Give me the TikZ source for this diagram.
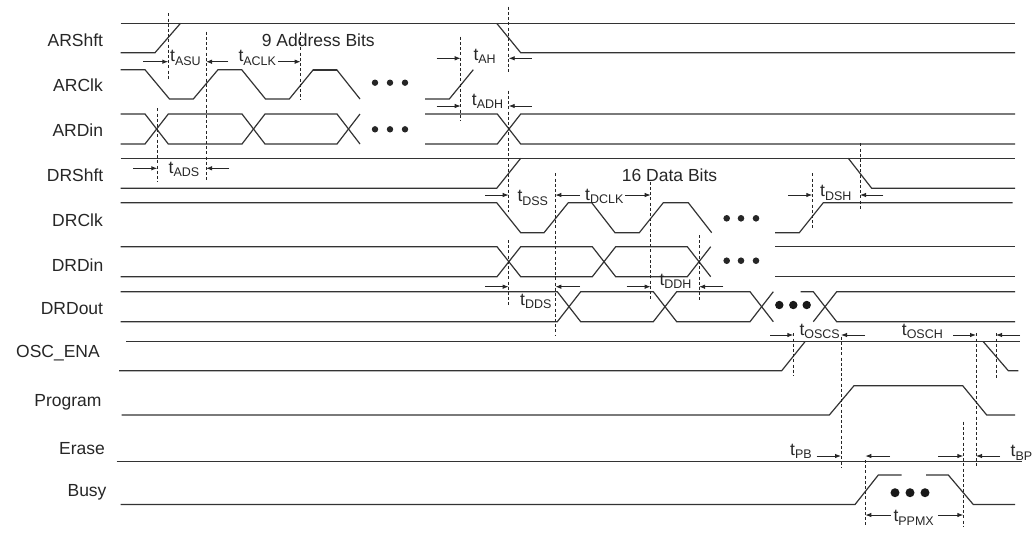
\documentclass[tikz,border=0pt]{standalone}
\usepackage{fontspec}
\setmainfont{Liberation Sans}
\usetikzlibrary{arrows.meta}
\newcommand{\ts}[1]{t\raisebox{-3.5pt}{\fontsize{12.5}{12}\selectfont #1}}
\begin{document}
\begin{tikzpicture}[x=1pt,y=-1pt,
  sig/.style={line width=1.2pt,draw=black!80,line join=miter},
  dsh/.style={line width=0.9pt,draw=black!85,dash pattern=on 3pt off 2.2pt},
  tarr/.style={line width=0.9pt,draw=black!85,-{Latex[length=6pt,width=4.5pt]}},
  lbl/.style={anchor=base east,inner sep=0,font=\fontsize{17.5}{20}\selectfont,text=black!85},
  tl/.style={anchor=base west,inner sep=0,font=\fontsize{17.5}{20}\selectfont,text=black!85},
  sdot/.style={fill=black!85},
  bdot/.style={fill=black!90}]
\useasboundingbox (0,0) rectangle (1033,542);

% ---------- signal names ----------
\node[lbl] (nARShft) at (103.3,46.7) {ARShft};
\node[lbl] (nARClk)  at (103,91.7)  {ARClk};
\node[lbl] (nARDin)  at (103.3,136) {ARDin};
\node[lbl] (nDRShft) at (103.5,181.5) {DRShft};
\node[lbl] (nDRClk)  at (103,226.5) {DRClk};
\node[lbl] (nDRDin)  at (103.5,271) {DRDin};
\node[lbl] (nDRDout) at (103.3,314) {DRDout};
\node[lbl] (nOSC)    at (100,357)   {OSC\_ENA};
\node[lbl] (nProg)   at (101.7,406.5) {Program};
\node[lbl] (nErase)  at (105,454.5) {Erase};
\node[lbl] (nBusy)   at (106.7,496.5) {Busy};

% ---------- ARShft ----------
\draw[sig] (120.7,23.3) -- (1015,23.3);
\draw[sig] (120.7,52.7) -- (155,52.7) -- (180.5,23.3);
\draw[sig] (496.7,23.3) -- (520.7,52.7) -- (1015,52.7);

% ---------- ARClk ----------
\draw[sig] (120.7,69.7) -- (145,69.7) -- (169.5,99) -- (193.3,99) -- (218,69.7) -- (241.7,69.7)
  -- (265.5,99) -- (289.3,99) -- (313.3,69.7) -- (336.7,69.7) -- (360,99);
\draw[sig,line width=1.8pt] (313.3,69.7) -- (336.7,69.7);
\draw[sig] (425,99) -- (449.3,99) -- (473.3,69.7);
\foreach \x in {375,390,405} \fill[sdot] (\x,82.7) circle (3.2);

% ---------- ARDin ----------
\draw[sig] (120.7,114) -- (145,114) -- (168.3,144) -- (242,144) -- (265,114) -- (337,114) -- (360,144);
\draw[sig] (120.7,144) -- (145,144) -- (168.3,114) -- (242,114) -- (265,144) -- (337,144) -- (360,114);
\draw[sig] (425,114) -- (497.3,114) -- (520.7,144) -- (1015,144);
\draw[sig] (425,144) -- (497.3,144) -- (520.7,114) -- (1015,114);
\foreach \x in {375,390,405} \fill[sdot] (\x,129.3) circle (3.2);

% ---------- DRShft ----------
\draw[sig] (120.7,158.3) -- (1015,158.3);
\draw[sig] (120.7,188.3) -- (496.7,188.3) -- (520.7,158.3);
\draw[sig] (848.3,158.3) -- (871.7,188.3) -- (1015,188.3);

% ---------- DRClk ----------
\draw[sig] (120.7,202.7) -- (496.7,202.7) -- (520.7,232.7) -- (544,232.7) -- (568.3,202.7) -- (591.7,202.7)
  -- (615,232.7) -- (639.3,232.7) -- (663.3,202.7) -- (688.3,202.7) -- (711.7,232.7);
\draw[sig] (775,232.7) -- (799.3,232.7) -- (823.3,202.7) -- (1012.7,202.7);
\foreach \x in {726.7,741,756} \fill[sdot] (\x,218.3) circle (3.3);

% ---------- DRDin ----------
\draw[sig] (120.7,246.7) -- (497,246.7) -- (520.7,276.7) -- (592.3,276.7) -- (615.7,246.7) -- (687.3,246.7) -- (710.7,276.7);
\draw[sig] (120.7,276.7) -- (497,276.7) -- (520.7,246.7) -- (592.3,246.7) -- (615.7,276.7) -- (687.3,276.7) -- (710.7,246.7);
\draw[sig] (775,246.7) -- (1015,246.7);
\draw[sig] (775,276.7) -- (1015,276.7);
\foreach \x in {726.7,741,756} \fill[sdot] (\x,260.7) circle (3.3);

% ---------- DRDout ----------
\draw[sig] (120.7,291.7) -- (557.3,291.7) -- (580.7,321.7) -- (653.3,321.7) -- (676.7,291.7) -- (750,291.7) -- (773.3,321.7);
\draw[sig] (120.7,321.7) -- (557.3,321.7) -- (580.7,291.7) -- (653.3,291.7) -- (676.7,321.7) -- (750,321.7) -- (773.3,291.7);
\draw[sig] (800.7,291.7) -- (813.3,291.7) -- (836.7,321.7) -- (1015,321.7);
\draw[sig] (813.3,321.7) -- (836.7,291.7) -- (1015,291.7);
\foreach \x in {779.3,793.3,806.7} \fill[bdot] (\x,305) circle (4.2);

% ---------- OSC_ENA ----------
\draw[sig] (126,341.7) -- (1020,341.7);
\draw[sig] (119,370.7) -- (781.7,370.7) -- (805,341.7);
\draw[sig] (983.3,341.7) -- (1008.3,370.7) -- (1018.3,370.7);

% ---------- Program ----------
\draw[sig] (121.7,415) -- (829.3,415) -- (854,385.7) -- (962.7,385.7) -- (986.7,415) -- (1015,415);

% ---------- Erase ----------
\draw[sig] (116.7,461.7) -- (1021.7,461.7);

% ---------- Busy ----------
\draw[sig] (120.7,504.5) -- (855,504.5) -- (878.3,475) -- (901.7,475);
\draw[sig] (926,475) -- (948.3,475) -- (973.3,504.5) -- (1015,504.5);
\foreach \x in {895,910,925} \fill[bdot] (\x,492.7) circle (4.5);

% ---------- dashed reference lines ----------
\draw[dsh] (168.3,13.3) -- (168.3,79.3);
\draw[dsh] (206,31.7) -- (206,181.7);
\draw[dsh] (300.7,31.7) -- (300.7,100);
\draw[dsh] (157.3,108.3) -- (157.3,181.7);
\draw[dsh] (460.7,36.7) -- (460.7,120);
\draw[dsh] (508.7,6.7) -- (508.7,73.3);
\draw[dsh] (508.7,90.7) -- (508.7,211.7);
\draw[dsh] (508.7,240) -- (508.7,305);
\draw[dsh] (555.3,173.3) -- (555.3,335);
\draw[dsh] (650.7,181.7) -- (650.7,300);
\draw[dsh] (699,235) -- (699,300);
\draw[dsh] (812.3,173.3) -- (812.3,230);
\draw[dsh] (860,143.3) -- (860,210);
\draw[dsh] (793.3,333.3) -- (793.3,375);
\draw[dsh] (841,336.7) -- (841,468.3);
\draw[dsh] (976,333.3) -- (976,468.3);
\draw[dsh] (996,333.3) -- (996,380);
\draw[dsh] (865.3,460) -- (865.3,526.7);
\draw[dsh] (963.3,421.7) -- (963.3,526.7);

% ---------- timing labels ----------
\node[tl] (tASU)  at (170,61.7)   {\ts{ASU}};
\node[tl] (tACLK) at (238.3,61.7) {\ts{ACLK}};
\node[tl] (bits9) at (261.7,46.7) {9 Address Bits};
\node[tl] (tAH)   at (473.3,60)   {\ts{AH}};
\node[tl] (tADH)  at (471.7,105)  {\ts{ADH}};
\node[tl] (tADS)  at (168.5,173.3) {\ts{ADS}};
\node[tl] (tDSS)  at (517.3,201.7) {\ts{DSS}};
\node[tl] (tDCLK) at (585,200)    {\ts{DCLK}};
\node[tl] (bits16) at (621.7,181.7) {16 Data Bits};
\node[tl] (tDSH)  at (820,196.7)  {\ts{DSH}};
\node[tl] (tDDS)  at (520,305)    {\ts{DDS}};
\node[tl] (tDDH)  at (659.3,285)  {\ts{DDH}};
\node[tl] (tOSCS) at (799.3,335)  {\ts{OSCS}};
\node[tl] (tOSCH) at (901.7,335)  {\ts{OSCH}};
\node[tl] (tPB)   at (790,455)    {\ts{PB}};
\node[tl] (tBP)   at (1010.5,456.7) {\ts{BP}};
\node[tl] (tPPMX) at (893.3,521.7) {\ts{PPMX}};

% ---------- timing arrows ----------
\draw[tarr] (143.3,61.7) -- (168.3,61.7);
\draw[tarr] (228.3,61.7) -- (206,61.7);
\draw[tarr] (278,61.7) -- (300.7,61.7);
\draw[tarr] (436.7,58.3) -- (460.7,58.3);
\draw[tarr] (531.7,58.3) -- (508.7,58.3);
\draw[tarr] (436.7,106) -- (460.7,106);
\draw[tarr] (531.7,106) -- (508.7,106);
\draw[tarr] (133.3,168.3) -- (157.3,168.3);
\draw[tarr] (229.3,168.3) -- (206,168.3);
\draw[tarr] (485,195) -- (508.7,195);
\draw[tarr] (580,195) -- (555.3,195);
\draw[tarr] (625,195) -- (650.7,195);
\draw[tarr] (788.3,195) -- (812.3,195);
\draw[tarr] (883.3,195) -- (860,195);
\draw[tarr] (485,286.7) -- (508.7,286.7);
\draw[tarr] (580,286.7) -- (555.3,286.7);
\draw[tarr] (626.7,286.7) -- (650.7,286.7);
\draw[tarr] (723.3,286.7) -- (699,286.7);
\draw[tarr] (770,335) -- (793.3,335);
\draw[tarr] (865,335) -- (841,335);
\draw[tarr] (953.3,335) -- (976,335);
\draw[tarr] (1020,335) -- (996,335);
\draw[tarr] (816.7,456) -- (841,456);
\draw[tarr] (1000,456) -- (976,456);
\draw[tarr] (890,456) -- (865.3,456);
\draw[tarr] (938.3,456) -- (963.3,456);
\draw[tarr] (891,515) -- (865.3,515);
\draw[tarr] (938.3,515) -- (963.3,515);
\end{tikzpicture}
\end{document}
